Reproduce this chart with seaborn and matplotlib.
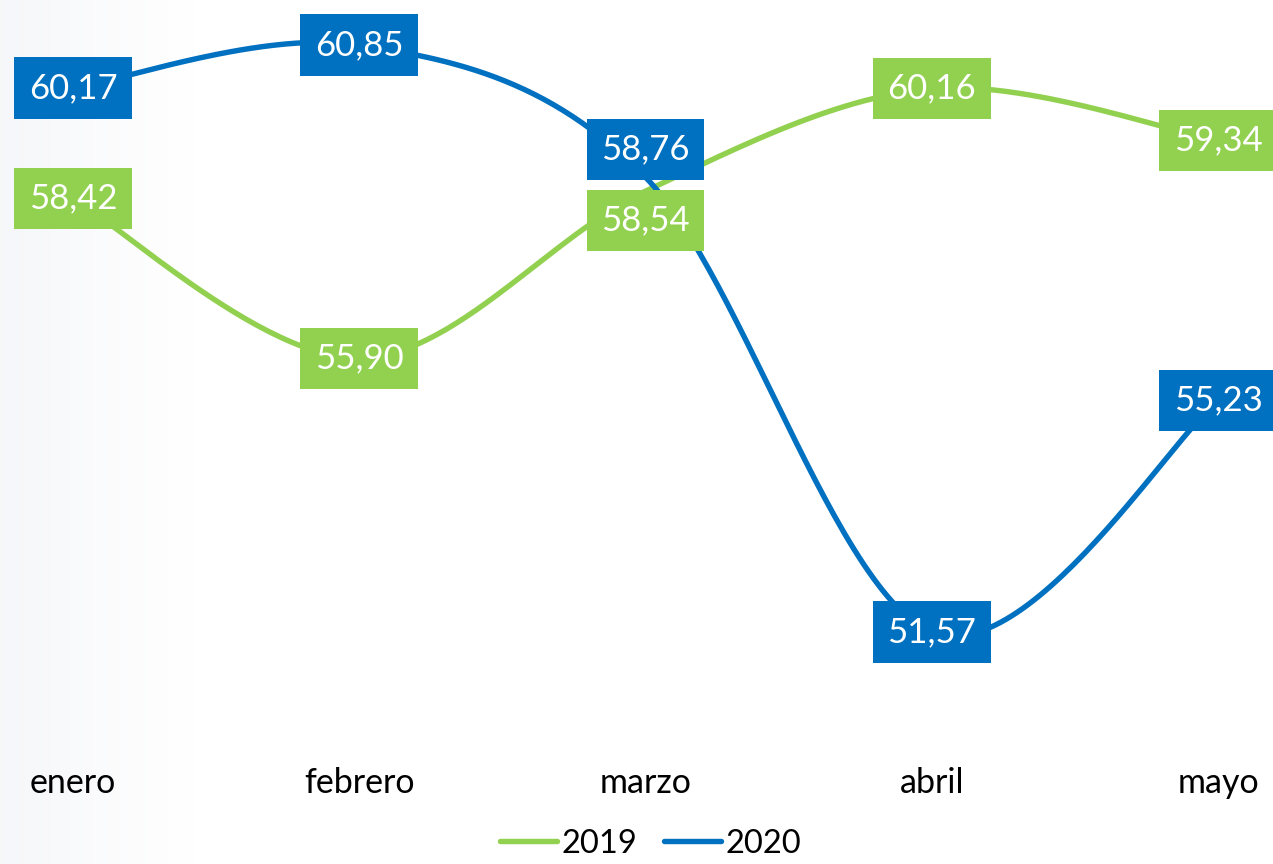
import numpy as np
import pandas as pd
import matplotlib
matplotlib.use("Agg")
import matplotlib.pyplot as plt
import seaborn as sns
from matplotlib.lines import Line2D

months = ["enero", "febrero", "marzo", "abril", "mayo"]
vals_2019 = [58.42, 55.90, 58.54, 60.16, 59.34]
vals_2020 = [60.17, 60.85, 58.76, 51.57, 55.23]
series_names = ["2019", "2020"]
colors = {"2019": "#92D050", "2020": "#0070C0"}
# vertical label offsets (points) to avoid overlap at marzo
offsets = {"2019": [0, 0, -21, 0, 0], "2020": [0, 0, 20, 0, 0]}

sns.set_theme(style="white")
plt.rcParams["font.family"] = ["Lato", "DejaVu Sans"]
plt.rcParams["text.color"] = "black"


def smooth(y, n=60):
    """Excel-style smoothed line (Catmull-Rom Bezier) through the points."""
    x = np.arange(len(y), dtype=float)
    y = np.asarray(y, float)
    P = np.column_stack([x, y])
    out = []
    for i in range(len(P) - 1):
        p0 = P[i - 1] if i > 0 else P[i]
        p1, p2 = P[i], P[i + 1]
        p3 = P[i + 2] if i + 2 < len(P) else P[i + 1]
        c1 = p1 + (p2 - p0) / 6
        c2 = p2 - (p3 - p1) / 6
        t = np.linspace(0, 1, n)[:, None]
        seg = (1 - t) ** 3 * p1 + 3 * (1 - t) ** 2 * t * c1 + 3 * (1 - t) * t ** 2 * c2 + t ** 3 * p2
        out.append(seg if i == 0 else seg[1:])
    return np.vstack(out)


rows = []
for name, vals in zip(series_names, [vals_2019, vals_2020]):
    s = smooth(vals)
    rows.append(pd.DataFrame({"x": s[:, 0], "y": s[:, 1], "serie": name}))
df = pd.concat(rows, ignore_index=True)

W, H = 1273, 864
fig = plt.figure(figsize=(W / 100, H / 100), dpi=100)

# background gradient
bg = fig.add_axes([0, 0, 1, 1], zorder=-1)
grad = np.linspace(0, 1, 256)
ramp = np.clip(grad * W / 190, 0, 1)
left = np.array([0.965, 0.969, 0.980])
img = left[None, :] * (1 - ramp[:, None]) + np.ones(3)[None, :] * ramp[:, None]
bg.imshow(img[None, :, :], aspect="auto", extent=[0, 1, 0, 1])
bg.axis("off")

ax = fig.add_axes([0, 0, 1, 1])
ax.patch.set_alpha(0)
sns.lineplot(data=df, x="x", y="y", hue="serie", estimator=None, sort=False,
             palette=colors, linewidth=3.9, legend=False, ax=ax)
for ln in ax.lines:
    ln.set_solid_capstyle("round")
    ln.set_zorder(2)

px_x = 286.25
ax.set_xlim(-73 / px_x, 4 + (W - 1218) / px_x)
ppu = 63.25
ymax = 60.85 + 45 / ppu
ymin = 60.85 - (H - 45) / ppu
ax.set_ylim(ymin, ymax)
ax.axis("off")

for name, vals in zip(series_names, [vals_2019, vals_2020]):
    for i, v in enumerate(vals):
        ax.annotate(f"{v:.2f}".replace(".", ","), (i, v), xytext=(0, offsets[name][i]),
                    textcoords="offset points", ha="center", va="center",
                    fontsize=25, color="white", zorder=5,
                    bbox=dict(boxstyle="square,pad=0.42", fc=colors[name], ec="none"))

for i, m in enumerate(months):
    ax.text(i, 60.85 - (783 - 45) / ppu, m, ha="center", va="center", fontsize=24.5, color="black")

handles = [Line2D([], [], color=colors[n], lw=3.9, solid_capstyle="round") for n in series_names]
fig.legend(handles, series_names, loc="lower center", bbox_to_anchor=(0.511, -0.028), ncol=2,
           frameon=False, fontsize=23.5, handlelength=1.75, handletextpad=0.15, columnspacing=0.8,
           labelcolor="black")

fig.savefig("out.png", dpi=100)
